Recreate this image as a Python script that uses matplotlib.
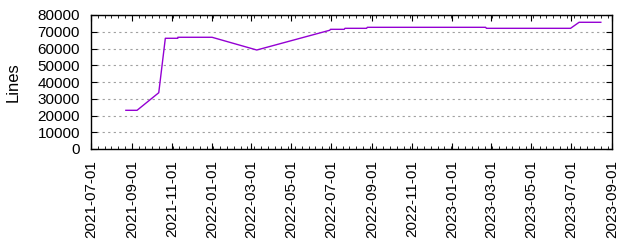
import numpy as np
import pandas as pd
import matplotlib
matplotlib.use("Agg")
import matplotlib.pyplot as plt
import matplotlib.dates as mdates
from matplotlib.ticker import AutoMinorLocator

# data
dates = ["2021-08-23", "2021-09-09", "2021-10-12", "2021-10-22", "2021-11-10",
         "2021-11-10", "2022-01-01", "2022-03-10", "2022-06-29", "2022-06-30",
         "2022-07-21", "2022-07-22", "2022-08-24", "2022-08-25", "2022-10-01",
         "2022-10-02", "2023-02-21", "2023-02-22", "2023-06-30", "2023-07-13",
         "2023-08-15"]
lines = [23100, 23100, 33600, 66100, 66100,
         66700, 66700, 59100, 70900, 71450,
         71450, 72050, 72050, 72650, 72650,
         72650, 72650, 72050, 72050, 75650,
         75650]
xticks = pd.date_range("2021-07-01", "2023-09-01", freq="2MS")

plt.rcParams['font.family'] = ['Liberation Sans', 'DejaVu Sans']
fig = plt.figure(figsize=(6.4, 2.4), dpi=100)
ax = fig.add_axes([91/640, 1-149/240, (612-91)/640, (149-15)/240])

x = pd.to_datetime(dates)
ax.plot(x, lines, color="#9400d3", lw=1.0)

ax.set_xlim(xticks[0], xticks[-1])
ax.set_ylim(0, 80000)
ax.set_xticks(xticks)
ax.xaxis.set_major_formatter(mdates.DateFormatter("%Y-%m-%d"))
ax.xaxis.set_minor_locator(AutoMinorLocator(6))
ax.set_yticks(np.arange(0, 80001, 10000))

ax.tick_params(axis="both", which="major", direction="in", length=4, width=0.8,
               top=True, right=True, labelsize=11, pad=8)
ax.tick_params(axis="x", which="minor", direction="in", length=2, width=0.6, top=True)
plt.setp(ax.get_xticklabels(), rotation=90)
ax.yaxis.grid(True, color="#a0a0a0", linestyle=(0, (2, 3)), lw=0.8)
for s in ax.spines.values():
    s.set_linewidth(1.0)

ax.set_ylabel("Lines", fontsize=12, labelpad=12)

fig.savefig("out.png")
